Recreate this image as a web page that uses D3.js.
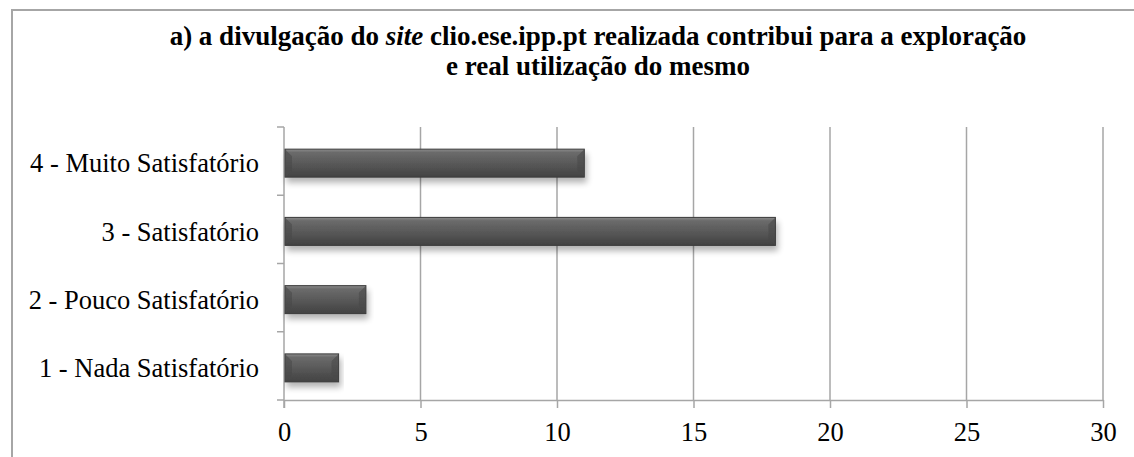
<!DOCTYPE html>
<html>
<head>
<meta charset="utf-8">
<script src="https://cdn.jsdelivr.net/npm/d3@7"></script>
<style>
  body { margin: 0; background: #fff; }
</style>
</head>
<body>
<div id="VizBox"></div>
<script>
// Chart data
var categories = ["1 - Nada Satisfatório", "2 - Pouco Satisfatório", "3 - Satisfatório", "4 - Muito Satisfatório"];
var values = [2, 3, 18, 11];
var xTicks = [0, 5, 10, 15, 20, 25, 30];

var data = categories.map(function(c, i) { return {group: c, value: values[i]}; });

var FONT = "Liberation Serif";
var W = 1134, H = 457;
var margin = {top: 127, right: 31, bottom: 57, left: 284};
var width = W - margin.left - margin.right;
var height = H - margin.top - margin.bottom;

var root = d3.select("#VizBox")
  .append("svg")
  .attr("width", W)
  .attr("height", H)
  .attr("font-family", FONT);

// gradient + shadow for the bars
var defs = root.append("defs");
var grad = defs.append("linearGradient")
  .attr("id", "barGrad")
  .attr("x1", 0).attr("y1", 0).attr("x2", 0).attr("y2", 1);
grad.append("stop").attr("offset", "0%").attr("stop-color", "#8c8c8c");
grad.append("stop").attr("offset", "12%").attr("stop-color", "#6b6b6b");
grad.append("stop").attr("offset", "55%").attr("stop-color", "#575757");
grad.append("stop").attr("offset", "100%").attr("stop-color", "#424242");

var shadow = defs.append("filter")
  .attr("id", "shadow")
  .attr("x", "-5%").attr("y", "-30%").attr("width", "115%").attr("height", "180%");
shadow.append("feGaussianBlur").attr("in", "SourceAlpha").attr("stdDeviation", 3);
shadow.append("feOffset").attr("dx", 2).attr("dy", 5).attr("result", "off");
shadow.append("feComponentTransfer").append("feFuncA").attr("type", "linear").attr("slope", 0.3);
var merge = shadow.append("feMerge");
merge.append("feMergeNode");
merge.append("feMergeNode").attr("in", "SourceGraphic");

// outer frame (right and bottom edges fall outside the picture)
root.append("rect")
  .attr("x", 12).attr("y", 10)
  .attr("width", 1130).attr("height", 460)
  .attr("fill", "none")
  .attr("stroke", "#a6a6a6")
  .attr("stroke-width", 2);

// title
var title = root.append("text")
  .attr("x", 598)
  .attr("y", 45)
  .attr("text-anchor", "middle")
  .attr("font-size", 27)
  .attr("font-weight", "bold");
title.append("tspan").text("a) a divulgação do ");
title.append("tspan").attr("font-style", "italic").text("site");
title.append("tspan").text(" clio.ese.ipp.pt realizada contribui para a exploração");
root.append("text")
  .attr("x", 598)
  .attr("y", 75)
  .attr("text-anchor", "middle")
  .attr("font-size", 27)
  .attr("font-weight", "bold")
  .text("e real utilização do mesmo");

var svg = root.append("g")
  .attr("transform", "translate(" + margin.left + "," + margin.top + ")");

var x = d3.scaleLinear().domain([0, 30]).range([0, width]);
var y = d3.scaleBand().domain(categories.slice().reverse()).range([0, height])
  .paddingInner(0.59).paddingOuter(0.295).align(0.55);
var yb = d3.scaleBand().domain(categories.slice().reverse()).range([0, height]);

// vertical gridlines
svg.selectAll(".grid")
  .data(xTicks.slice(1))
  .enter().append("line")
  .attr("x1", function(d) { return x(d); })
  .attr("x2", function(d) { return x(d); })
  .attr("y1", 0).attr("y2", height)
  .attr("stroke", "#a6a6a6")
  .attr("stroke-width", 1.5);

// x axis
var xAxis = svg.append("g")
  .attr("transform", "translate(0," + height + ")")
  .call(d3.axisBottom(x).tickValues(xTicks).tickSize(8).tickPadding(14).tickSizeOuter(0));
xAxis.attr("font-family", FONT).attr("font-size", 26.5);
xAxis.select(".domain").attr("stroke", "#a6a6a6").attr("stroke-width", 1.5);
xAxis.selectAll(".tick line").attr("stroke", "#a6a6a6").attr("stroke-width", 1.5);
xAxis.selectAll("text").attr("fill", "#000");

// y axis, ticks at band boundaries
var yAxis = svg.append("g");
yAxis.append("line")
  .attr("x1", 0).attr("x2", 0).attr("y1", 0).attr("y2", height + 8)
  .attr("stroke", "#a6a6a6").attr("stroke-width", 1.5);
yAxis.selectAll(".ytick")
  .data(categories.slice().reverse().concat(["end"]))
  .enter().append("line")
  .attr("x1", -7).attr("x2", 0)
  .attr("y1", function(d, i) { return i * yb.bandwidth(); })
  .attr("y2", function(d, i) { return i * yb.bandwidth(); })
  .attr("stroke", "#a6a6a6").attr("stroke-width", 1.5);
yAxis.selectAll(".ylabel")
  .data(categories)
  .enter().append("text")
  .attr("x", -25)
  .attr("y", function(d) { return y(d) + y.bandwidth() / 2; })
  .attr("dy", "0.35em")
  .attr("text-anchor", "end")
  .attr("font-size", 26.5)
  .text(function(d) { return d; });

// bars
var bars = svg.selectAll(".bar")
  .data(data)
  .enter().append("g")
  .attr("filter", "url(#shadow)");
bars.append("rect")
  .attr("x", 1)
  .attr("y", function(d) { return y(d.group); })
  .attr("width", function(d) { return x(d.value) - 1; })
  .attr("height", y.bandwidth())
  .attr("fill", "url(#barGrad)")
  .attr("stroke", "#3a3a3a")
  .attr("stroke-width", 1);
// bevel corners
bars.append("path")
  .attr("d", function(d) {
    var x1 = 1, x2 = x(d.value), y1 = y(d.group), h = y.bandwidth(), b = 7;
    return "M" + x1 + "," + y1 + "L" + (x1 + b) + "," + (y1 + b) + "L" + (x1 + b) + "," + (y1 + h - b) + "L" + x1 + "," + (y1 + h) + "Z" +
      "M" + x2 + "," + y1 + "L" + (x2 - b) + "," + (y1 + b) + "L" + (x2 - b) + "," + (y1 + h - b) + "L" + x2 + "," + (y1 + h) + "Z";
  })
  .attr("fill", "#4a4a4a")
  .attr("opacity", 0.6);
</script>
</body>
</html>
